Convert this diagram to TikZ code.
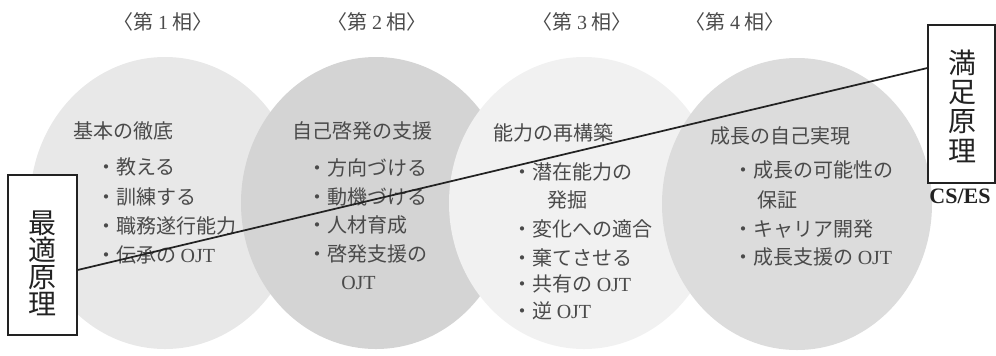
\documentclass[tikz,border=0pt]{standalone}
\usepackage{fontspec}
\usetikzlibrary{shapes.geometric,calc}
\newfontfamily\jp{Noto Sans CJK JP}
\newfontfamily\lat{Liberation Serif}
\definecolor{cA}{HTML}{E8E8E8}
\definecolor{cB}{HTML}{D4D4D4}
\definecolor{cC}{HTML}{F1F1F1}
\definecolor{cD}{HTML}{DCDCDC}
\definecolor{txt}{HTML}{4A4A4A}
\definecolor{ink}{HTML}{222222}
\begin{document}
\begin{tikzpicture}[x=0.75pt,y=-0.75pt,
  blob/.style={ellipse, inner sep=0, minimum width=202.5pt, minimum height=219pt},
  ttl/.style={inner sep=0, font=\jp\fontsize{15}{18}\selectfont, text=txt},
  head/.style={anchor=west, inner sep=0, font=\jp\fontsize{15}{18}\selectfont, text=txt},
  itm/.style={anchor=west, inner sep=0, font=\jp\fontsize{15}{18}\selectfont, text=txt},
  pbox/.style={draw=ink, line width=0.9pt, fill=white, inner sep=0},
  vtxt/.style={align=center, inner sep=0, text=ink},
  link/.style={draw=ink, line width=1.3pt}
]
\useasboundingbox (0,0) rectangle (996,355);
% phase circles
\node[blob, fill=cA] (c1) at (165,203) {};
\node[blob, fill=cB] (c2) at (376,203) {};
\node[blob, fill=cC] (c3) at (584,203) {};
\node[blob, fill=cD] (c4) at (797,204) {};
% titles
\node[ttl] (t1) at (163,22) {〈第 {\lat 1} 相〉};
\node[ttl] (t2) at (377,22) {〈第 {\lat 2} 相〉};
\node[ttl] (t3) at (582,22) {〈第 {\lat 3} 相〉};
\node[ttl] (t4) at (735,22) {〈第 {\lat 4} 相〉};
% phase 1
\node[head] (h1) at (73,131) {基本の徹底};
\node[itm] (a1) at (96,167) {・教える};
\node[itm] (a2) at (96,197) {・訓練する};
\node[itm] (a3) at (96,226) {・職務遂行能力};
\node[itm] (a4) at (96,255) {・伝承の {\lat OJT}};
% phase 2
\node[head] (h2) at (292,131) {自己啓発の支援};
\node[itm] (b1i) at (307,168) {・方向づける};
\node[itm] (b2i) at (307,197) {・動機づける};
\node[itm] (b3i) at (307,225) {・人材育成};
\node[itm] (b4i) at (307,254) {・啓発支援の};
\node[itm] (b5i) at (341,283) {\lat OJT};
% phase 3
\node[head] (h3) at (493,133) {能力の再構築};
\node[itm] (d1) at (512,172) {・潜在能力の};
\node[itm] (d2) at (547,200) {発掘};
\node[itm] (d3) at (512,229) {・変化への適合};
\node[itm] (d4) at (512,258) {・棄てさせる};
\node[itm] (d5) at (512,284) {・共有の {\lat OJT}};
\node[itm] (d6) at (512,311) {・逆 {\lat OJT}};
% phase 4
\node[head] (h4) at (710,136) {成長の自己実現};
\node[itm] (e1) at (733,170) {・成長の可能性の};
\node[itm] (e2) at (757,200) {保証};
\node[itm] (e3) at (733,229) {・キャリア開発};
\node[itm] (e4) at (733,257) {・成長支援の {\lat OJT}};
% principle boxes
\node[pbox, minimum width=51.75pt, minimum height=120pt] (bx1) at (42.5,255) {};
\node[vtxt, font=\jp\fontsize{21}{20.25}\selectfont] (bt1) at (42,263) {最\\適\\原\\理};
\node[pbox, minimum width=50.25pt, minimum height=118.5pt] (bx2) at (961.5,104) {};
\node[vtxt, font=\jp\fontsize{21}{22}\selectfont] (bt2) at (962,106) {満\\足\\原\\理};
\node[inner sep=0, text=ink, font=\lat\bfseries\fontsize{16.5}{18}\selectfont] (cses) at (960,196) {CS/ES};
% connecting line
\coordinate (p1) at ($(bx1.east)+(0,15)$);
\coordinate (p2) at ($(bx2.west)+(0,-36)$);
\draw[link] (p1) -- (p2);
\end{tikzpicture}
\end{document}
